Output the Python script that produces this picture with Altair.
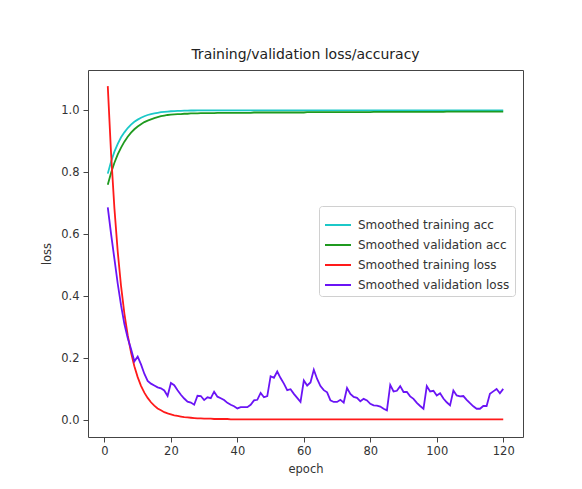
import altair as alt
import pandas as pd

epochs = list(range(1, 121))

train_acc = [
    0.795, 0.834, 0.866, 0.891, 0.912, 0.928, 0.942, 0.953, 0.962, 0.969,
    0.975, 0.980, 0.984, 0.987, 0.989, 0.991, 0.993, 0.994, 0.995, 0.996,
    0.9965, 0.997, 0.9975, 0.998, 0.998, 0.9985, 0.9985, 0.999, 0.999, 0.999,
    0.999, 0.999, 0.999, 0.999, 0.999, 0.999, 0.999, 0.999, 0.999, 0.999,
    0.999, 0.999, 0.999, 0.999, 0.999, 0.999, 0.999, 0.999, 0.999, 0.999,
    0.999, 0.999, 0.999, 0.999, 0.999, 0.999, 0.999, 0.999, 0.999, 0.999,
    0.999, 0.999, 0.999, 0.999, 0.999, 0.999, 0.999, 0.999, 0.999, 0.999,
    0.999, 0.999, 0.999, 0.999, 0.999, 0.999, 0.999, 0.999, 0.999, 0.999,
    0.999, 0.999, 0.999, 0.999, 0.999, 0.999, 0.999, 0.999, 0.999, 0.999,
    0.999, 0.999, 0.999, 0.999, 0.999, 0.999, 0.999, 0.999, 0.999, 0.999,
    0.999, 0.999, 0.999, 0.999, 0.999, 0.999, 0.999, 0.999, 0.999, 0.999,
    0.999, 0.999, 0.999, 0.999, 0.999, 0.999, 0.999, 0.999, 0.999, 0.999,
]

val_acc = [
    0.759, 0.798, 0.830, 0.857, 0.879, 0.898, 0.914, 0.927, 0.938, 0.947,
    0.954, 0.961, 0.966, 0.970, 0.974, 0.977, 0.980, 0.982, 0.984, 0.985,
    0.986, 0.987, 0.987, 0.988, 0.988, 0.989, 0.989, 0.989, 0.990, 0.990,
    0.990, 0.990, 0.990, 0.991, 0.991, 0.991, 0.991, 0.991, 0.991, 0.991,
    0.991, 0.991, 0.991, 0.991, 0.992, 0.992, 0.992, 0.992, 0.992, 0.992,
    0.992, 0.992, 0.992, 0.992, 0.992, 0.992, 0.992, 0.992, 0.992, 0.992,
    0.993, 0.993, 0.993, 0.993, 0.993, 0.993, 0.993, 0.993, 0.993, 0.993,
    0.993, 0.993, 0.993, 0.993, 0.993, 0.993, 0.993, 0.993, 0.993, 0.993,
    0.994, 0.994, 0.994, 0.994, 0.994, 0.994, 0.994, 0.994, 0.994, 0.994,
    0.994, 0.994, 0.994, 0.994, 0.994, 0.994, 0.994, 0.994, 0.994, 0.994,
    0.994, 0.994, 0.995, 0.995, 0.995, 0.995, 0.995, 0.995, 0.995, 0.995,
    0.995, 0.995, 0.995, 0.995, 0.995, 0.995, 0.995, 0.995, 0.995, 0.995,
]

train_loss = [
    1.077, 0.858, 0.683, 0.543, 0.432, 0.344, 0.274, 0.218, 0.174, 0.139,
    0.111, 0.089, 0.072, 0.058, 0.047, 0.038, 0.032, 0.026, 0.022, 0.019,
    0.016, 0.014, 0.012, 0.010, 0.009, 0.008, 0.007, 0.006, 0.006, 0.005,
    0.005, 0.005, 0.004, 0.004, 0.004, 0.004, 0.004, 0.003, 0.003, 0.003,
    0.003, 0.003, 0.003, 0.003, 0.003, 0.003, 0.003, 0.003, 0.003, 0.003,
    0.003, 0.003, 0.003, 0.003, 0.003, 0.003, 0.003, 0.003, 0.003, 0.003,
    0.003, 0.003, 0.003, 0.003, 0.003, 0.003, 0.003, 0.003, 0.003, 0.003,
    0.003, 0.003, 0.003, 0.003, 0.003, 0.003, 0.003, 0.003, 0.003, 0.003,
    0.003, 0.003, 0.003, 0.003, 0.003, 0.003, 0.003, 0.003, 0.003, 0.003,
    0.003, 0.003, 0.003, 0.003, 0.003, 0.003, 0.003, 0.003, 0.003, 0.003,
    0.003, 0.003, 0.003, 0.003, 0.003, 0.003, 0.003, 0.003, 0.003, 0.003,
    0.003, 0.003, 0.003, 0.003, 0.003, 0.003, 0.003, 0.003, 0.003, 0.003,
]

val_loss = [
    0.686, 0.600, 0.520, 0.440, 0.370, 0.310, 0.265, 0.230, 0.190, 0.205,
    0.180, 0.150, 0.127, 0.118, 0.112, 0.106, 0.103, 0.096, 0.078, 0.120,
    0.113, 0.097, 0.082, 0.070, 0.060, 0.057, 0.050, 0.079, 0.078, 0.065,
    0.074, 0.071, 0.092, 0.076, 0.071, 0.065, 0.056, 0.050, 0.045, 0.038,
    0.042, 0.042, 0.042, 0.050, 0.064, 0.066, 0.088, 0.074, 0.078, 0.142,
    0.137, 0.157, 0.136, 0.118, 0.097, 0.100, 0.085, 0.072, 0.059, 0.128,
    0.112, 0.122, 0.163, 0.133, 0.110, 0.097, 0.090, 0.064, 0.059, 0.059,
    0.066, 0.057, 0.104, 0.085, 0.075, 0.072, 0.061, 0.069, 0.064, 0.053,
    0.048, 0.047, 0.044, 0.037, 0.032, 0.114, 0.093, 0.095, 0.110, 0.091,
    0.091, 0.077, 0.069, 0.056, 0.046, 0.037, 0.110, 0.093, 0.095, 0.080,
    0.087, 0.070, 0.058, 0.048, 0.096, 0.080, 0.077, 0.078, 0.066, 0.055,
    0.045, 0.037, 0.037, 0.046, 0.046, 0.085, 0.093, 0.101, 0.087, 0.101,
]

series_names = [
    "Smoothed training acc",
    "Smoothed validation acc",
    "Smoothed training loss",
    "Smoothed validation loss",
]
series_colors = ["#1cc8c8", "#1f9a1f", "#ff1a1a", "#6a14f5"]
x_ticks = [0, 20, 40, 60, 80, 100, 120]
y_ticks = [0.0, 0.2, 0.4, 0.6, 0.8, 1.0]

rows = []
for name, vals in zip(series_names, [train_acc, val_acc, train_loss, val_loss]):
    for e, v in zip(epochs, vals):
        rows.append({"epoch": e, "value": v, "series": name})
df = pd.DataFrame(rows)

FONT = "DejaVu Sans"

chart = alt.Chart(df).mark_line(strokeWidth=1.8).encode(
    x=alt.X(
        "epoch:Q",
        scale=alt.Scale(domain=[-4.95, 125.95], nice=False, zero=False),
        axis=alt.Axis(values=x_ticks, format="d", title="epoch", labelPadding=3, titlePadding=7),
    ),
    y=alt.Y(
        "value:Q",
        scale=alt.Scale(domain=[-0.054, 1.129], nice=False, zero=False),
        axis=alt.Axis(values=y_ticks, format=".1f", title="loss", labelPadding=4, titlePadding=8),
    ),
    color=alt.Color(
        "series:N",
        scale=alt.Scale(domain=series_names, range=series_colors),
        legend=alt.Legend(
            title=None,
            orient="none",
            legendX=231,
            legendY=136,
            symbolType="stroke",
            symbolSize=676,
            symbolStrokeWidth=2,
            labelFont=FONT,
            labelFontSize=12,
            labelColor="#333",
            labelOffset=6,
            padding=5,
            rowPadding=0,
            strokeColor="#d0d0d0",
            fillColor="white",
            cornerRadius=3,
        ),
    ),
).properties(
    width=435,
    height=367,
    title=alt.TitleParams(
        "Training/validation loss/accuracy",
        font=FONT,
        fontSize=14,
        fontWeight="normal",
        color="#222",
        anchor="middle",
        offset=8,
    ),
    autosize=alt.AutoSizeParams(type="none"),
    padding={"left": 80, "top": 62, "right": 40, "bottom": 40},
).configure_view(
    stroke="#444", strokeWidth=1
).configure_axis(
    domain=False,
    grid=False,
    tickColor="#444",
    tickSize=5,
    labelFont=FONT,
    labelFontSize=11.5,
    labelColor="#333",
    titleFont=FONT,
    titleFontSize=11.5,
    titleFontWeight="normal",
    titleColor="#333",
)

chart.save("out.html", embed_options={"renderer": "svg", "actions": False})
